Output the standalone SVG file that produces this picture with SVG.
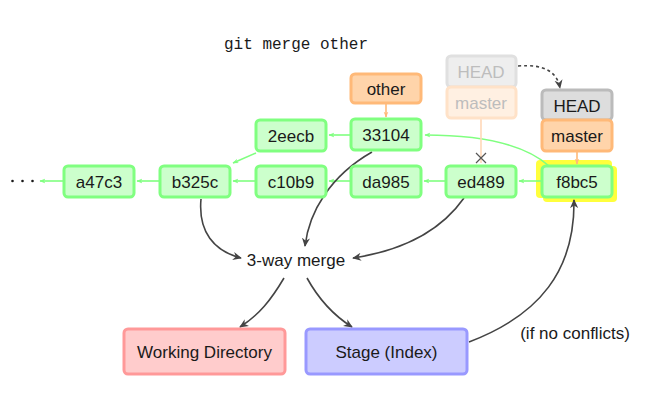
<svg xmlns="http://www.w3.org/2000/svg" width="666" height="412" viewBox="0 0 666 412">
  <style>
    text { font-family: "Liberation Sans", Arial, sans-serif; font-size: 17px; fill: #1a1a1a; text-anchor: middle; }
    .commit rect { fill: #ccffcc; stroke: #80ff80; stroke-width: 3; }
    .branch rect { fill: #ffd4aa; stroke: #ffb978; stroke-width: 3; }
    .head rect { fill: #dddddd; stroke: #bbbbbb; stroke-width: 3; }
    .ghost-head rect { fill: #eeeeee; stroke: #e0e0e0; stroke-width: 3; }
    .ghost-branch rect { fill: #fff0e2; stroke: #ffe2c8; stroke-width: 3; }
    .ghost text { fill: #bdbdbd; }
    .wd rect { fill: #ffcccc; stroke: #ff9999; stroke-width: 3; }
    .stage rect { fill: #ccccff; stroke: #9999ff; stroke-width: 3; }
    .hl { fill: #ffff3c; }
    .parent { stroke: #80ff80; stroke-width: 1.6; fill: none; marker-end: url(#greenTip); }
    .ref { stroke: #ffb978; stroke-width: 1.6; fill: none; marker-end: url(#orangeTip); }
    .ghost-ref { stroke: #ffd8b8; stroke-width: 1.6; fill: none; }
    .flow { stroke: #444444; stroke-width: 1.6; fill: none; marker-end: url(#darkTip); }
    .cmd { font-family: "Liberation Mono", "Courier New", monospace; font-size: 16px; text-anchor: start; }
  </style>
  <defs>
    <marker id="greenTip" viewBox="0 0 10 10" refX="9" refY="5" markerWidth="6" markerHeight="6" orient="auto" markerUnits="userSpaceOnUse">
      <path d="M0,1 L10,5 L0,9 L3,5 Z" fill="#80ff80"/>
    </marker>
    <marker id="orangeTip" viewBox="0 0 10 10" refX="9" refY="5" markerWidth="6" markerHeight="6" orient="auto" markerUnits="userSpaceOnUse">
      <path d="M0,1 L10,5 L0,9 L3,5 Z" fill="#ffb978"/>
    </marker>
    <marker id="darkTip" viewBox="0 0 10 10" refX="9" refY="5" markerWidth="9" markerHeight="9" orient="auto" markerUnits="userSpaceOnUse">
      <path d="M0,0.5 L10,5 L0,9.5 L3,5 Z" fill="#444444"/>
    </marker>
  </defs>

  <text class="cmd" x="224" y="49">git merge other</text>

  <!-- highlight behind the new commit -->
  <g id="highlight">
    <rect class="hl" x="536" y="160" width="76" height="38" rx="4"/>
    <rect class="hl" x="543" y="166" width="74" height="36" rx="4"/>
  </g>

  <g id="connectors">
    <!-- parent links -->
    <path class="parent" d="M541,181 L519,181"/>
    <path class="parent" d="M445,181 L424,181"/>
    <path class="parent" d="M350,181 L329,181"/>
    <path class="parent" d="M255,181 L233,181"/>
    <path class="parent" d="M159,181 L137,181"/>
    <path class="parent" d="M63,181 L40,181"/>
    <path class="parent" d="M350,135 L329,135"/>
    <path class="parent" d="M256,153 L233,163"/>
    <path class="parent" d="M549,166 C522,142 472,135 425,135"/>
    <!-- branch refs -->
    <path class="ref" d="M386,104 L386,117"/>
    <path class="ref" d="M577,152 L577,164"/>
    <path class="ghost-ref" d="M481,119 L481,163"/>
    <path d="M476,153 L486,163 M486,153 L476,163" stroke="#555555" stroke-width="1.2"/>
    <!-- HEAD move -->
    <path d="M518,66 C545,64 557,72 560,88" stroke="#444444" stroke-width="1.6" stroke-dasharray="3,3" fill="none" marker-end="url(#darkTip)"/>
    <!-- merge flow -->
    <path class="flow" d="M201,199 C198,232 214,251 241,258"/>
    <path class="flow" d="M372,152 C330,176 309,212 305,246"/>
    <path class="flow" d="M464,198 C440,232 400,251 353,258"/>
    <path class="flow" d="M284,278 C271,300 259,315 240,327"/>
    <path class="flow" d="M307,278 C318,298 333,315 352,327"/>
    <path class="flow" d="M469,342 C540,315 575,270 574,200"/>
  </g>

  <g id="dots" fill="#1a1a1a">
    <circle cx="12.5" cy="181" r="1.3"/>
    <circle cx="22.5" cy="181" r="1.3"/>
    <circle cx="32.5" cy="181" r="1.3"/>
  </g>

  <g id="a47c3" class="commit"><rect x="64" y="166" width="70" height="31" rx="4"/><text x="99" y="187.5">a47c3</text></g>
  <g id="b325c" class="commit"><rect x="160" y="166" width="70" height="31" rx="4"/><text x="195" y="187.5">b325c</text></g>
  <g id="c10b9" class="commit"><rect x="256" y="166" width="70" height="31" rx="4"/><text x="291" y="187.5">c10b9</text></g>
  <g id="da985" class="commit"><rect x="351" y="166" width="70" height="31" rx="4"/><text x="386" y="187.5">da985</text></g>
  <g id="ed489" class="commit"><rect x="446" y="166" width="70" height="31" rx="4"/><text x="481" y="187.5">ed489</text></g>
  <g id="f8bc5" class="commit"><rect x="542" y="166" width="70" height="31" rx="4"/><text x="577" y="187.5">f8bc5</text></g>
  <g id="2eecb" class="commit"><rect x="256" y="120" width="70" height="31" rx="4"/><text x="291" y="141.5">2eecb</text></g>
  <g id="33104" class="commit"><rect x="351" y="119" width="70" height="31" rx="4"/><text x="386" y="140.5">33104</text></g>

  <g id="other" class="branch"><rect x="351" y="74" width="70" height="29" rx="4"/><text x="386" y="94.5">other</text></g>

  <g id="old-head" class="ghost ghost-head"><rect x="447" y="56" width="69" height="31" rx="4"/><text x="481" y="77.5">HEAD</text></g>
  <g id="old-master" class="ghost ghost-branch"><rect x="447" y="87" width="69" height="31" rx="4"/><text x="481" y="108.5">master</text></g>

  <g id="head" class="head"><rect x="542" y="90" width="70" height="30" rx="4"/><text x="577" y="111.5">HEAD</text></g>
  <g id="master" class="branch"><rect x="542" y="120" width="70" height="31" rx="4"/><text x="577" y="141.5">master</text></g>

  <g id="merge"><text x="296" y="266">3-way merge</text></g>

  <g id="working-directory" class="wd"><rect x="124" y="329" width="161" height="45" rx="4"/><text x="204.5" y="357.5">Working Directory</text></g>
  <g id="stage" class="stage"><rect x="306" y="329" width="161" height="45" rx="4"/><text x="386.5" y="357.5">Stage (Index)</text></g>

  <g id="note"><text x="575" y="339">(if no conflicts)</text></g>
</svg>
